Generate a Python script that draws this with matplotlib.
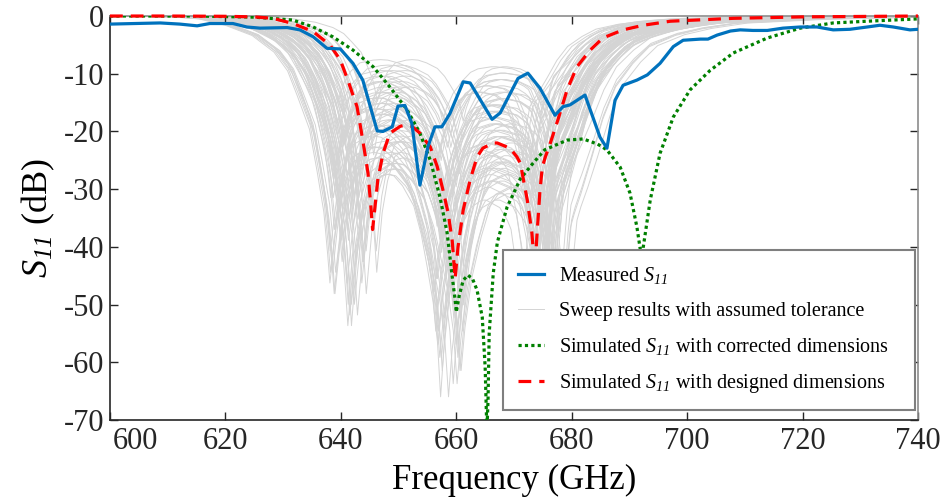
import numpy as np
import matplotlib
matplotlib.use('Agg')
import matplotlib.pyplot as plt
from matplotlib.transforms import ScaledTranslation

plt.rcParams['font.family'] = ['Liberation Serif', 'DejaVu Serif']
plt.rcParams['mathtext.fontset'] = 'custom'
plt.rcParams['mathtext.rm'] = 'Liberation Serif'
plt.rcParams['mathtext.it'] = 'Liberation Serif:italic'
plt.rcParams['mathtext.sf'] = 'Liberation Serif:italic'
plt.rcParams['axes.unicode_minus'] = False

# measured S11 (GHz, dB)
meas_f = [600.0, 604.3, 608.7, 612.1, 615.1, 617.3, 621.3, 623.7, 626.0, 630.7,
          632.9, 635.2, 637.6, 639.9, 642.1, 643.8, 645.1, 646.3, 647.3, 648.9,
          649.9, 651.1, 652.3, 653.7, 655.1, 656.3, 657.5, 658.9, 661.2, 662.4,
          666.2, 667.6, 670.7, 672.4, 674.5, 677.1, 678.5, 679.7, 682.3, 684.9,
          686.1, 687.5, 688.9, 691.3, 693.1, 695.3, 697.6, 699.3, 702.3, 703.6,
          705.2, 707.5, 709.2, 711.4, 713.9, 716.6, 719.6, 722.5, 725.3, 728.2,
          731.2, 733.4, 735.7, 738.6, 740.0]
meas_db = [-1.4, -1.3, -1.2, -1.4, -1.7, -1.3, -1.3, -1.9, -2.1, -2.0,
           -2.4, -3.6, -5.6, -5.7, -8.2, -11.1, -15.7, -19.9, -20.0, -19.2,
           -15.6, -15.5, -18.6, -29.3, -22.6, -19.2, -19.2, -16.9, -11.4, -11.6,
           -17.9, -16.8, -10.8, -9.9, -12.5, -17.2, -15.7, -15.4, -13.7, -21.0,
           -22.9, -14.6, -12.0, -11.1, -10.2, -8.2, -5.3, -4.2, -4.0, -4.0,
           -3.3, -2.6, -2.4, -2.5, -2.5, -2.1, -1.9, -1.9, -2.4, -2.3,
           -1.9, -1.6, -1.9, -2.4, -2.3]

# simulated S11, designed dimensions
des_f = [600.0, 610.0, 620.0, 625.0, 628.2, 631.7, 635.2, 638.1, 639.9, 641.2,
         642.8, 643.8, 644.7, 645.2, 645.5, 646.4, 647.3, 648.5, 650.3, 651.3,
         652.3, 653.7, 655.5, 656.7, 657.7, 658.6, 659.3, 659.8, 660.3, 661.2,
         662.4, 663.6, 664.6, 666.4, 667.1, 669.3, 670.5, 671.1, 672.3, 673.1,
         673.6, 674.0, 674.5, 674.9, 675.4, 676.3, 677.6, 679.2, 680.9, 683.2,
         685.4, 688.9, 692.4, 697.1, 708.0, 720.0, 740.0]
des_db = [0.0, 0.0, -0.05, -0.15, -0.4, -1.3, -2.7, -5.0, -7.6, -11.1,
          -15.7, -21.5, -27.2, -33.0, -37.0, -28.4, -23.8, -20.3, -19.1, -18.9,
          -19.1, -20.3, -22.7, -26.1, -30.2, -34.2, -39.0, -45.5, -40.0, -33.6,
          -28.4, -24.4, -22.9, -22.0, -22.0, -22.9, -24.4, -25.5, -31.9, -37.6,
          -44.0, -37.6, -30.2, -26.2, -24.5, -22.0, -18.0, -12.8, -8.8, -5.9,
          -3.8, -2.4, -1.6, -0.9, -0.4, -0.15, 0.0]

# simulated S11, corrected dimensions
cor_f = [600.0, 615.0, 625.0, 631.7, 635.2, 638.6, 642.1, 645.6, 648.5, 651.5,
         653.7, 655.5, 657.2, 658.4, 659.3, 659.8, 660.0, 660.5, 661.2, 662.0,
         662.8, 663.6, 664.5, 665.0, 665.3, 665.5, 665.7, 666.4, 667.1, 667.6,
         668.8, 669.8, 671.1, 673.3, 675.3, 679.2, 682.0, 684.5, 686.1, 688.4,
         690.1, 691.3, 691.9, 692.15, 692.4, 693.6, 695.3, 697.6, 700.5, 704.0,
         708.0, 713.9, 719.6, 725.3, 731.2, 740.0]
cor_db = [0.0, 0.0, -0.2, -0.7, -1.9, -3.6, -5.9, -8.8, -12.3, -16.3,
          -20.3, -25.0, -31.5, -37.5, -45.2, -49.2, -51.3, -48.5, -45.8, -44.9,
          -45.5, -47.5, -52.2, -60.8, -72.0, -66.6, -55.0, -44.6, -39.3, -37.4,
          -33.1, -31.0, -28.2, -25.5, -23.2, -21.5, -21.3, -22.2, -23.2, -26.2,
          -30.7, -36.6, -40.6, -60.0, -40.0, -31.9, -23.8, -17.5, -12.8, -9.4,
          -6.4, -3.8, -2.1, -1.2, -0.9, -0.5]

# tolerance sweep: each run = designed curve with band stretch, offset (GHz) and depth factor
sweep_stretch = [1.20, 1.31, 1.08, 1.26, 1.15, 1.33, 1.05, 1.28, 1.17, 1.23,
                 1.12, 1.32, 1.19, 1.04, 1.27, 1.15, 1.30, 1.10, 1.22, 1.33,
                 1.07, 1.25, 1.18, 1.30, 1.13, 1.27, 1.20, 1.04, 1.31, 1.16,
                 1.24, 1.09, 1.29, 1.21, 1.14, 1.33, 1.06, 1.26, 1.18, 1.11,
                 1.31, 1.22, 1.04, 1.27, 1.15, 1.32, 1.20, 1.08, 1.29, 1.24,
                 1.13, 1.26, 1.17, 1.33, 1.05, 1.21, 1.28, 1.10, 1.25, 1.15,
                 1.31, 1.19, 1.07, 1.30, 1.23, 1.12, 1.32, 1.16, 1.20, 1.27]
sweep_offset = [-1.2, -2.8, 0.6, -0.4, -3.1, 1.1, -1.9, -0.7, 0.9, -2.3,
                -3.4, 0.2, -1.5, 1.4, -2.6, -0.1, -3.0, 0.7, -1.1, -2.0,
                1.2, -3.3, -0.5, 0.4, -2.4, -1.6, 1.0, -0.9, -2.9, 0.3,
                -1.8, -3.5, 0.8, -0.3, -2.2, -1.3, 1.5, -2.7, -0.6, 0.5,
                -1.0, -3.2, 1.3, -2.1, -0.2, -1.7, 0.1, -2.5, -0.8, 1.1,
                -3.6, -1.4, 0.6, -2.0, -0.4, -2.8, 0.9, -1.1, -3.0, 0.2,
                -1.9, -0.7, 1.4, -2.3, -1.5, 0.0, -2.6, -0.3, 0.8, -1.2]
sweep_depth = [0.95, 1.20, 0.55, 1.05, 0.80, 1.35, 0.70, 0.45, 1.15, 0.90,
               0.60, 1.25, 1.00, 0.40, 1.30, 0.75, 1.10, 0.50, 1.45, 0.85,
               0.65, 1.20, 0.95, 1.40, 0.55, 0.80, 1.05, 0.70, 1.25, 0.45,
               1.15, 0.60, 1.00, 0.90, 1.35, 0.50, 1.10, 0.75, 0.85, 1.30,
               0.65, 1.00, 1.20, 0.40, 0.95, 0.70, 1.15, 1.45, 0.60, 0.85,
               1.05, 0.90, 1.25, 0.75, 1.10, 0.55, 1.35, 0.80, 1.00, 0.65,
               1.20, 0.50, 0.95, 1.30, 0.70, 1.15, 0.85, 1.40, 0.60, 1.05]

fig = plt.figure(figsize=(9.44, 4.99), dpi=100)
ax = fig.add_axes([0.1165, 0.1583, 0.856, 0.8096])

des_f_arr = np.array(des_f)
des_db_arr = np.array(des_db)
for i in range(len(sweep_stretch)):
    f = 660 + (des_f_arr - 660) * sweep_stretch[i] + sweep_offset[i]
    lab = 'Sweep results with assumed tolerance' if i == 0 else None
    ax.plot(f, des_db_arr * sweep_depth[i], color='#d4d4d4', lw=0.7, zorder=1, label=lab)

ax.plot(cor_f, cor_db, color='#008000', lw=2.3, linestyle=(0, (1, 1)), zorder=3,
        label='Simulated $S_{\\mathsf{11}}$ with corrected dimensions')
ax.plot(des_f, des_db, color='#ff0000', lw=2.3, linestyle=(0, (4, 2.5)), zorder=4,
        clip_on=False, label='Simulated $S_{\\mathsf{11}}$ with designed dimensions')
ax.plot(meas_f, meas_db, color='#0072bd', lw=2.3, zorder=5,
        label='Measured $S_{\\mathsf{11}}$')

ax.set_xlim(600, 740)
ax.set_ylim(-70, 0)
ax.set_xticks(np.arange(600, 741, 20))
ax.set_yticks(np.arange(-70, 1, 10))
ax.tick_params(direction='in', top=True, right=True, length=6, width=1,
               labelsize=22, pad=4, colors='#262626')
ax.tick_params(axis='x', pad=5)
for lbl in ax.get_xticklabels() + ax.get_yticklabels():
    lbl.set_fontfamily('Liberation Serif')
first = ax.get_xticklabels()[0]
first.set_horizontalalignment('left')
first.set_transform(first.get_transform() + ScaledTranslation(2 / 72, 0, fig.dpi_scale_trans))
for s in ['top', 'right']:
    ax.spines[s].set_color('#8c8c8c')
for s in ['bottom', 'left']:
    ax.spines[s].set_color('#262626')
for s in ax.spines.values():
    s.set_linewidth(1.2)

ax.set_xlabel('Frequency (GHz)', fontsize=25, labelpad=6)
ax.set_ylabel('$S_{\\mathsf{11}}$ (dB)', fontsize=26, labelpad=5)

handles, labels = ax.get_legend_handles_labels()
order = [3, 0, 1, 2]
leg = ax.legend([handles[k] for k in order], [labels[k] for k in order],
                loc='lower left', bbox_to_anchor=(0.486, 0.025, 0.51, 0.39), mode='expand',
                fontsize=14.5, frameon=True, fancybox=False, framealpha=1,
                edgecolor='#7f7f7f', handlelength=1.3, handletextpad=0.75,
                labelspacing=0.75, borderpad=0.75, borderaxespad=0)
leg.get_frame().set_linewidth(1.5)
leg.set_zorder(10)

fig.savefig('out.png', dpi=100)
